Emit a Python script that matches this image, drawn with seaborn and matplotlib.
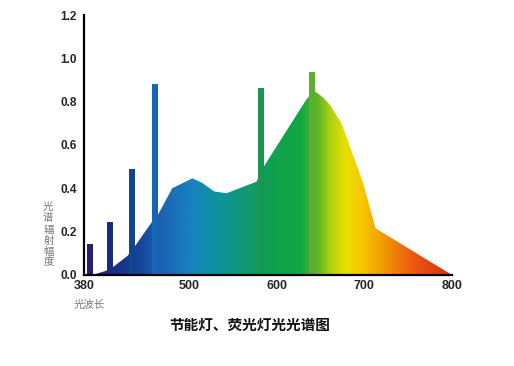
import numpy as np
import pandas as pd
import matplotlib
matplotlib.use('Agg')
import matplotlib.pyplot as plt
from matplotlib.colors import LinearSegmentedColormap
import seaborn as sns

# spectrum envelope (wavelength nm, relative intensity)
curve_nm = [390, 405, 414, 430, 438, 457, 465, 481, 504, 515, 529, 543,
            577, 585, 634, 643, 652, 661, 674, 684, 699, 713, 800]
curve_val = [0.0, 0.018, 0.038, 0.088, 0.13, 0.24, 0.28, 0.40, 0.446, 0.425, 0.385, 0.377,
             0.43, 0.497, 0.81, 0.85, 0.823, 0.785, 0.70, 0.59, 0.42, 0.215, 0.0]

# mercury line spikes
line_nm = [387, 410, 435, 461, 582, 640]
line_val = [0.143, 0.243, 0.49, 0.88, 0.865, 0.935]
line_colors = ['#2b1b70', '#1d2b7e', '#15448f', '#1566b4', '#1a9650', '#5cae2e']

# colour stops along wavelength
stop_nm = [380, 409, 443, 466, 500, 523, 558, 592, 627, 647, 661, 678, 696, 719, 753, 800]
stop_col = ['#2a1a6e', '#1c2a80', '#16459a', '#1a62b2', '#1a80c0', '#1090a8', '#10987a',
            '#12a050', '#10a840', '#60b828', '#b0d010', '#e8e000', '#f8c800', '#f0a000',
            '#ec5c10', '#dc2a10']

xticks = [380, 500, 600, 700, 800]
yticks = [0.0, 0.2, 0.4, 0.6, 0.8, 1.0, 1.2]

sns.set_style('white')
plt.rcParams['font.family'] = ['Noto Sans CJK SC', 'DejaVu Sans']

fig = plt.figure(figsize=(5.14, 3.66), dpi=100)
ax = fig.add_axes([0.163, 0.249, 0.716, 0.710])

# gradient fill under envelope
pos = [(n - 380) / 420 for n in stop_nm]
cmap = LinearSegmentedColormap.from_list('spec', list(zip(pos, stop_col)))
grad = np.linspace(0, 1, 512).reshape(1, -1)
img = ax.imshow(grad, cmap=cmap, aspect='auto', extent=[380, 800, 0, 1.2],
                origin='lower', zorder=1)
poly = ax.fill_between(curve_nm, 0, curve_val, color='none', lw=0)
clip = poly.get_paths()[0]
img.set_clip_path(clip, transform=ax.transData)

# spikes
df = pd.DataFrame({'nm': line_nm, 'val': line_val, 'line': [str(n) for n in line_nm]})
sns.barplot(data=df, x='nm', y='val', hue='line', palette=line_colors, native_scale=True,
            width=0.3, saturation=1, legend=False, linewidth=0, ax=ax, zorder=2)

ax.set_xlim(380, 800)
ax.set_ylim(0, 1.2)
ax.set_xticks(xticks)
ax.set_xticklabels([str(t) for t in xticks], fontsize=9, fontweight='bold', family='Liberation Sans')
ax.set_yticks(yticks)
ax.set_yticklabels([f'{t:.1f}' for t in yticks], fontsize=8.5, fontweight='bold', family='Liberation Sans')
ax.tick_params(axis='y', length=3, width=1.2, color='black', pad=2)
ax.tick_params(axis='x', length=0, pad=4)
sns.despine(ax=ax)
for s in ['left', 'bottom']:
    ax.spines[s].set_color('black')
    ax.spines[s].set_linewidth(1.6)
ax.set_xlabel('')
ax.set_ylabel('')

# axis captions
fig.text(48 / 514, 1 - 202 / 366, '光\n谱', fontsize=7.5, color='#777777', ha='center', va='top',
         linespacing=1.1)
fig.text(49 / 514, 1 - 225 / 366, '辐\n射\n幅\n度', fontsize=7.5, color='#777777', ha='center', va='top',
         linespacing=1.1)
fig.text(89 / 514, 1 - 305 / 366, '光波长', fontsize=7.5, color='#777777', ha='center', va='center')
fig.text(250 / 514, 1 - 325 / 366, '节能灯、荧光灯光光谱图', fontsize=10.5, fontweight='bold',
         color='#111111', ha='center', va='center')

fig.savefig('out.png', dpi=100)
